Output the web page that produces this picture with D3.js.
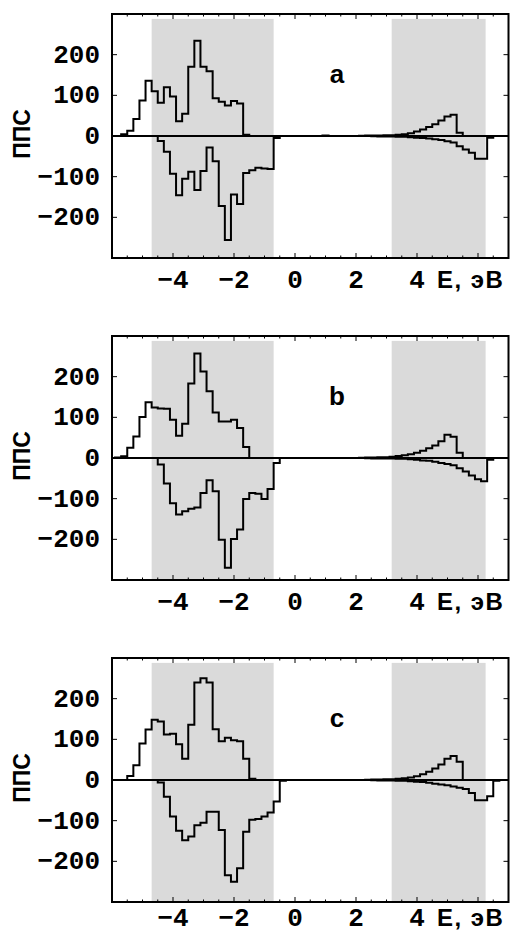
<!DOCTYPE html>
<html><head><meta charset="utf-8">
<script src="https://cdn.jsdelivr.net/npm/d3@7"></script>
<style>body{margin:0;background:#fff}</style>
</head><body><svg id="chart" width="511" height="934"></svg>
<script>
// bin centres (eV), bin width 0.2
const energy = [-5.8,-5.6,-5.4,-5.2,-5.0,-4.8,-4.6,-4.4,-4.2,-4.0,-3.8,-3.6,-3.4,-3.2,-3.0,-2.8,-2.6,-2.4,-2.2,-2.0,-1.8,-1.6,-1.4,-1.2,-1.0,-0.8,-0.6,-0.4,-0.2,0.0,0.2,0.4,0.6,0.8,1.0,1.2,1.4,1.6,1.8,2.0,2.2,2.4,2.6,2.8,3.0,3.2,3.4,3.6,3.8,4.0,4.2,4.4,4.6,4.8,5.0,5.2,5.4,5.6,5.8,6.0,6.2,6.4,6.6];

const upA   = [0,4,13,42,87,136,110,82,120,97,36,55,170,234,170,159,93,84,75,86,80,3,0,0,0,0,0,0,0,0,0,0,0,0,1,0,0,0,0,0,0.5,1,1,1,2,2,3,4,7,11,16,22,29,38,48,52,8,0,0,0,0,0,0];
const downA = [0,0,0,0,0,0,0,-12,-39,-93,-146,-105,-88,-133,-86,-28,-62,-172,-256,-144,-167,-91,-84,-78,-80,-81,-5,0,0,0,0,0,0,0,0,0,0,0,0,0,0,0,-0.5,-1,-1,-1,-2,-2,-3,-4,-5,-6,-8,-10,-13,-16,-25,-33,-41,-56,-56,-4,0];

const upB   = [1,4,25,53,101,137,124,122,121,94,55,84,183,257,213,164,112,90,90,94,74,27,0,0,0,0,0,0,0,0,0,0,0,0,0,0,0,0,0,0,0.5,1,1,2,2,3,5,7,9,13,18,24,31,41,57,52,13,0,0,0,0,0,0];
const downB = [0,0,0,0,0,0,0,-16,-63,-111,-139,-131,-125,-122,-86,-55,-82,-201,-270,-199,-176,-101,-86,-88,-101,-76,-12,0,0,0,0,0,0,0,0,0,0,0,0,0,0,-0.5,-1,-1,-1,-1,-2,-2,-3,-4,-6,-7,-9,-12,-15,-18,-25,-33,-43,-52,-57,-4,0];

const upC   = [0,0,10,36,90,124,148,144,112,114,88,52,136,240,250,240,125,95,104,98,95,52,3,0,0,0,0,0,0,0,0,0,0,0,0,0,0,0,0,0,0,0.5,1,1,2,2,3,4,6,9,14,20,28,38,52,59,45,0,0,0,0,0,0];
const downC = [0,0,0,0,0,0,0,-6,-41,-90,-125,-148,-139,-111,-105,-78,-78,-123,-234,-250,-217,-127,-98,-96,-90,-80,-53,-2,0,0,0,0,0,0,0,0,0,0,0,0,0,0,-0.5,-1,-1,-1,-2,-2,-3,-4,-5,-7,-9,-11,-13,-16,-19,-22,-32,-50,-50,-40,-2];

const panelLabels = ["a","b","c"];
const yTicks = [200,100,0,-100,-200];
const xTicks = [-4,-2,0,2,4];
const xAxisTitle = "E, эВ";
const yAxisTitle = "ППС";
const bandRanges = [[-4.7,-0.7],[3.17,6.25]];

const panels = [
  {label: panelLabels[0], up: upA, down: downA},
  {label: panelLabels[1], up: upB, down: downB},
  {label: panelLabels[2], up: upC, down: downC}
];

const svg = d3.select("#chart");
const panelTops = [14, 336, 658];
const panelH = 244;
const x = d3.scaleLinear().domain([-6, 7]).range([112, 508.5]);
const y = d3.scaleLinear().domain([-300, 300]).range([panelH, 0]);
const binW = 0.2;
const fmt = v => v < 0 ? "\u2212" + Math.abs(v) : String(v);

const stepLine = d3.line().x(d => x(d[0])).y(d => y(d[1])).curve(d3.curveStepBefore);
function stepPoints(vals) {
  const pts = [[energy[0] - binW/2, 0]];
  vals.forEach((v, i) => pts.push([energy[i] + binW/2, v]));
  pts.push([energy[energy.length-1] + binW/2, 0]);
  return pts;
}

panels.forEach((p, i) => {
  const g = svg.append("g").attr("transform", `translate(0,${panelTops[i]})`);
  const labelY = Math.min(panelH + 30, 934 - panelTops[i] - 8);
  // shaded bands
  g.selectAll("rect.band").data(bandRanges).join("rect")
    .attr("class","band")
    .attr("x", d => x(d[0])).attr("width", d => x(d[1]) - x(d[0]))
    .attr("y", y(288)).attr("height", y(-300) - y(288))
    .attr("fill", "#dadada");
  // zero line
  g.append("line").attr("x1", x(-6)).attr("x2", x(7)).attr("y1", y(0)).attr("y2", y(0))
    .attr("stroke", "#000").attr("stroke-width", 2);
  // histograms
  [p.up, p.down].forEach(vals => {
    g.append("path").attr("d", stepLine(stepPoints(vals)))
      .attr("fill", "none").attr("stroke", "#000").attr("stroke-width", 2)
      .attr("stroke-linejoin", "miter");
  });
  // frame
  g.append("rect").attr("x", x(-6)).attr("y", 0).attr("width", x(7) - x(-6)).attr("height", panelH)
    .attr("fill", "none").attr("stroke", "#000").attr("stroke-width", 2);
  // ticks
  const tk = g.append("g").attr("stroke", "#000").attr("stroke-width", 1);
  yTicks.forEach(t => {
    tk.append("line").attr("x1", x(-6)).attr("x2", x(-6) + 5).attr("y1", y(t)).attr("y2", y(t));
    tk.append("line").attr("x1", x(7)).attr("x2", x(7) - 5).attr("y1", y(t)).attr("y2", y(t));
  });
  x.ticks(26).forEach(t => {
    const major = Math.abs(t % 2) < 1e-9;
    const len = major ? 5 : 2.5;
    tk.append("line").attr("x1", x(t)).attr("x2", x(t)).attr("y1", 0).attr("y2", len);
    tk.append("line").attr("x1", x(t)).attr("x2", x(t)).attr("y1", panelH).attr("y2", panelH - len);
  });
  // y tick labels
  g.selectAll("text.yl").data(yTicks).join("text")
    .attr("class","yl")
    .attr("x", 100).attr("y", d => y(d) + 8)
    .attr("text-anchor", "end")
    .attr("font-family", "'Liberation Mono', 'Courier New', monospace")
    .attr("font-weight", "bold").attr("font-size", 26)
    .text(d => fmt(d));
  // x tick labels
  g.selectAll("text.xl").data(xTicks).join("text")
    .attr("class","xl")
    .attr("x", d => x(d)).attr("y", labelY)
    .attr("text-anchor", "middle")
    .attr("font-family", "'Liberation Mono', 'Courier New', monospace")
    .attr("font-weight", "bold").attr("font-size", 26)
    .text(d => fmt(d));
  // x axis title
  g.append("text").attr("x", 437).attr("y", labelY)
    .attr("font-family", "'Liberation Sans', Arial, sans-serif").attr("font-weight", "bold").attr("font-size", 24)
    .attr("letter-spacing", 1.5)
    .text(xAxisTitle);
  // y axis title
  g.append("text").attr("transform", `translate(30,${y(0) - 2}) rotate(-90)`)
    .attr("text-anchor", "middle")
    .attr("font-family", "'Liberation Sans', Arial, sans-serif").attr("font-weight", "bold").attr("font-size", 23)
    .text(yAxisTitle);
  // panel letter
  g.append("text").attr("x", 337).attr("y", 68.5).attr("text-anchor", "middle")
    .attr("font-family", "'Liberation Sans', Arial, sans-serif").attr("font-weight", "bold").attr("font-size", 26)
    .text(p.label);
});
</script></body></html>
